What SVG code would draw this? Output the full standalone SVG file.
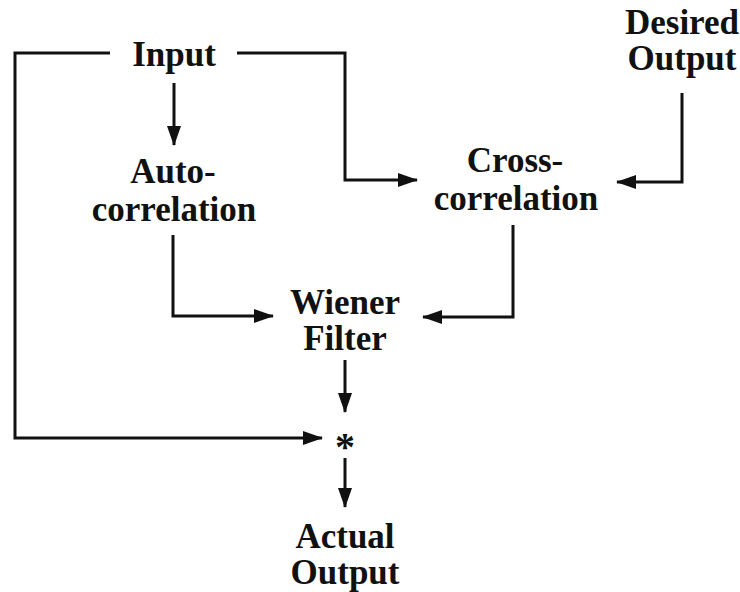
<svg xmlns="http://www.w3.org/2000/svg" width="740" height="592" viewBox="0 0 740 592">
<style>
.t{font-family:"Liberation Serif","Times New Roman",serif;font-weight:bold;font-size:35px;fill:#111;text-anchor:middle}
.c{fill:none;stroke:#111;stroke-width:3;stroke-linejoin:miter}
</style>
<defs>
<marker id="ah" markerUnits="userSpaceOnUse" markerWidth="20" markerHeight="16" refX="19" refY="8" orient="auto">
<path d="M0,1 L20,8 L0,15 Z" fill="#111"/>
</marker>
</defs>
<rect width="740" height="592" fill="#fff"/>
<g id="connectors">
<path class="c" d="M110,53 H15 V438 H322" marker-end="url(#ah)"/>
<path class="c" d="M237,53 H345 V180 H417" marker-end="url(#ah)"/>
<path class="c" d="M174,83 V145" marker-end="url(#ah)"/>
<path class="c" d="M682,93 V182 H617" marker-end="url(#ah)"/>
<path class="c" d="M173,235 V316 H273" marker-end="url(#ah)"/>
<path class="c" d="M513,225 V317 H423" marker-end="url(#ah)"/>
<path class="c" d="M345,360 V412" marker-end="url(#ah)"/>
<path class="c" d="M345,458 V507" marker-end="url(#ah)"/>
</g>
<g id="input"><text class="t" x="174" y="66">Input</text></g>
<g id="desired"><text class="t" x="682" y="34">Desired</text><text class="t" x="682" y="70">Output</text></g>
<g id="autocorrelation"><text class="t" x="173" y="183">Auto-</text><text class="t" x="174" y="221">correlation</text></g>
<g id="crosscorrelation"><text class="t" x="515" y="172">Cross-</text><text class="t" x="516" y="210">correlation</text></g>
<g id="wiener"><text class="t" x="345" y="314">Wiener</text><text class="t" x="345" y="350">Filter</text></g>
<g id="convolve"><text class="t" x="345" y="460" style="font-size:40px">*</text></g>
<g id="actual"><text class="t" x="345" y="548">Actual</text><text class="t" x="345" y="584">Output</text></g>
</svg>
